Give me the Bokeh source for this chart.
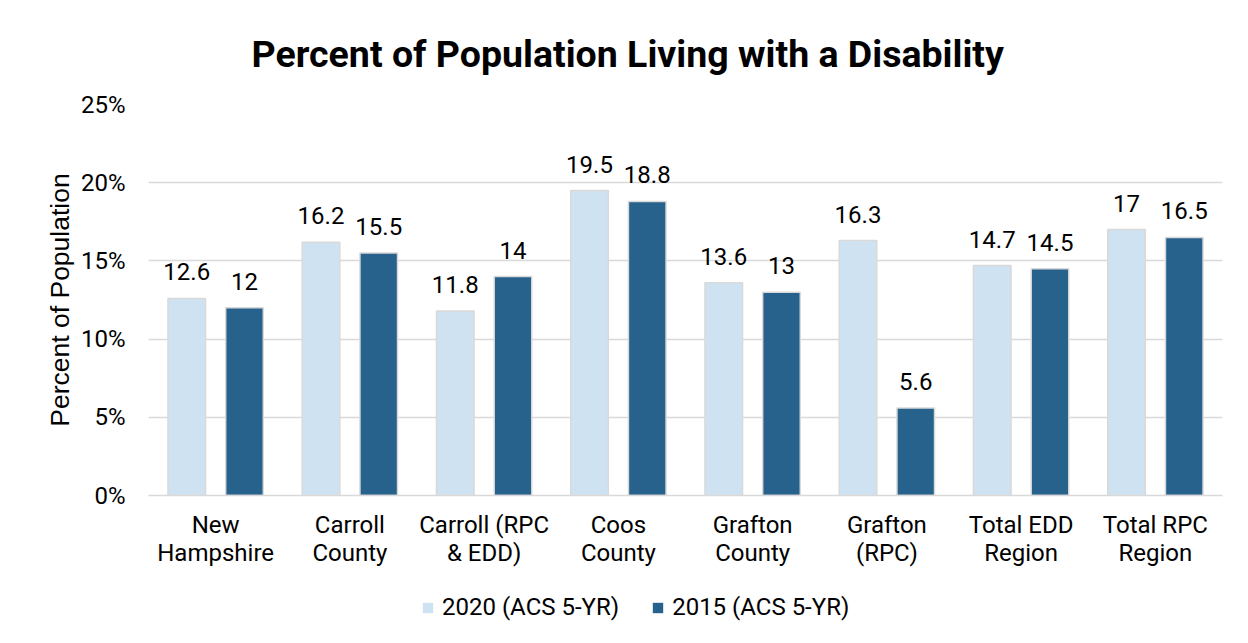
from bokeh.plotting import figure
from bokeh.layouts import column
from bokeh.core.properties import value
from bokeh.models import (FactorRange, Range1d, ColumnDataSource, LabelSet, Legend,
                          LegendItem, PrintfTickFormatter, FixedTicker)
from bokeh.transform import dodge
from bokeh.embed import file_html
from bokeh.resources import INLINE

categories = ["New\nHampshire", "Carroll\nCounty", "Carroll (RPC\n& EDD)", "Coos\nCounty",
              "Grafton\nCounty", "Grafton\n(RPC)", "Total EDD\nRegion", "Total RPC\nRegion"]
y2020 = [12.6, 16.2, 11.8, 19.5, 13.6, 16.3, 14.7, 17]
y2015 = [12, 15.5, 14, 18.8, 13, 5.6, 14.5, 16.5]
series = ["2020 (ACS 5-YR)", "2015 (ACS 5-YR)"]
y_ticks = [0, 5, 10, 15, 20, 25]

FONT = "Roboto"
LIGHT = "#cfe2f1"
DARK = "#27628c"
GRID = "#d9d9d9"
TXT = "#000000"
FS = "24px"

src = ColumnDataSource(dict(
    cat=categories, y2020=y2020, y2015=y2015,
    l2020=[f"{v:g}" for v in y2020], l2015=[f"{v:g}" for v in y2015],
))

p = figure(width=1248, height=580, x_range=FactorRange(*categories, range_padding=0),
           y_range=Range1d(0, 25), output_backend="svg", toolbar_location=None,
           min_border_left=148, min_border_right=26, min_border_top=100, min_border_bottom=85)

p.title.text = "Percent of Population Living with a Disability"
p.title.text_font = FONT
p.title.text_font_size = "37.5px"
p.title.text_font_style = "bold"
p.title.text_color = TXT
p.title.align = "left"
p.title.offset = 103
p.title.standoff = 58

r1 = p.vbar(x=dodge("cat", -0.215, range=p.x_range), top="y2020", width=0.28, source=src,
            fill_color=LIGHT, line_color=GRID, line_width=1.5)
r2 = p.vbar(x=dodge("cat", 0.215, range=p.x_range), top="y2015", width=0.28, source=src,
            fill_color=DARK, line_color=GRID, line_width=1.5)

for xo, col, lab in [(-0.215, "y2020", "l2020"), (0.215, "y2015", "l2015")]:
    ls = LabelSet(x=dodge("cat", xo, range=p.x_range), y=col, text=lab, source=src,
                  text_align="center", text_baseline="alphabetic", y_offset=18,
                  text_font=value(FONT), text_font_size=value(FS), text_color=TXT)
    p.add_layout(ls)

p.yaxis.ticker = FixedTicker(ticks=y_ticks)
p.yaxis.formatter = PrintfTickFormatter(format="%d%%")
p.yaxis.axis_label = "Percent of Population"
p.yaxis.axis_label_text_font = "Liberation Sans"
p.yaxis.axis_label_text_font_size = "26.5px"
p.yaxis.axis_label_text_font_style = "normal"
p.yaxis.axis_label_text_color = TXT
p.yaxis.axis_label_standoff = 3
p.yaxis.major_label_text_font = FONT
p.yaxis.major_label_text_font_size = FS
p.yaxis.major_label_text_color = TXT
p.yaxis.major_label_standoff = 17
p.yaxis.axis_line_color = None
p.yaxis.major_tick_line_color = None
p.yaxis.minor_tick_line_color = None

p.xaxis.major_label_text_font = FONT
p.xaxis.major_label_text_font_size = FS
p.xaxis.major_label_text_color = TXT
p.xaxis.major_label_text_line_height = 1.0
p.xaxis.major_label_standoff = 9
p.xaxis.axis_line_color = GRID
p.xaxis.axis_line_width = 1.5
p.xaxis.major_tick_line_color = None
p.xaxis.minor_tick_line_color = None

p.xgrid.grid_line_color = None
p.ygrid.grid_line_color = GRID
p.ygrid.grid_line_width = 1.5
p.outline_line_color = None

# legend strip below the chart (its bars are hairline-thin and lie outside its visible y range)
lf = figure(width=1248, height=56, x_range=FactorRange(*categories), y_range=Range1d(30, 31),
            output_backend="svg", toolbar_location=None, min_border=0)
lf.axis.visible = False
lf.grid.grid_line_color = None
lf.outline_line_color = None
g1 = lf.vbar(x="cat", top="y2020", width=0.001, source=src,
             fill_color=LIGHT, line_color=None)
g2 = lf.vbar(x="cat", top="y2015", width=0.001, source=src,
             fill_color=DARK, line_color=None)
legend = Legend(items=[LegendItem(label=series[0], renderers=[g1]),
                       LegendItem(label=series[1], renderers=[g2])],
                orientation="horizontal", location=(273, 15),
                label_text_font=FONT, label_text_font_size=FS, label_text_color=TXT,
                glyph_width=13, glyph_height=13, spacing=32, label_standoff=8,
                border_line_color=None, background_fill_alpha=0, margin=0, padding=0)
lf.add_layout(legend, "center")

layout = column(p, lf, spacing=0)
open("out.html", "w").write(file_html(layout, INLINE))
